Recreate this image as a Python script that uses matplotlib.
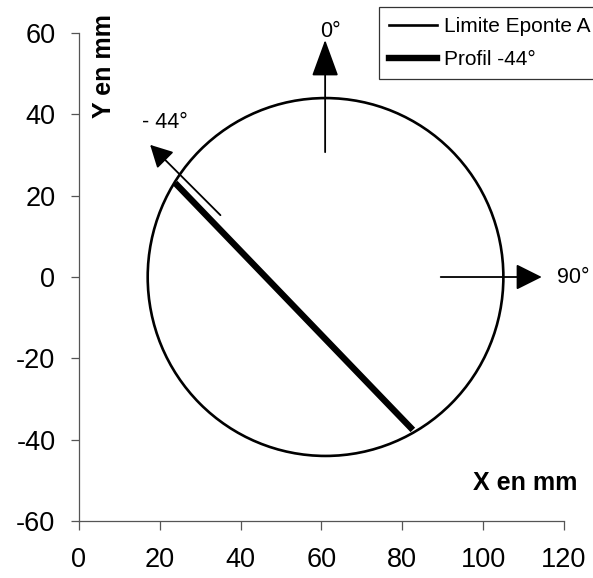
import matplotlib
matplotlib.use('Agg')
import matplotlib.pyplot as plt
from matplotlib.patches import Circle
from matplotlib.lines import Line2D

plt.rcParams['font.family'] = ['Liberation Sans', 'DejaVu Sans']
plt.rcParams['axes.unicode_minus'] = False

# contour "Limite Eponte A" (cercle) en mm
centre = (61, 0)
rayon = 44

# profil -44 deg : extremites (mm)
profil_x = [23.8, 82.6]
profil_y = [23.1, -37.6]

# fleches de direction : (queue, pointe), libelle et position du libelle
fleches_queue = [(60.9, 30.7), (89.5, 0), (35.0, 15.2)]
fleches_pointe = [(60.9, 58.3), (114.5, 0), (17.6, 32.5)]
fleches_tete = [(1.15, 0.42), (0.8, 0.4), (0.68, 0.36)]
libelles = ['0°', '90°', '- 44°']
libelles_pos = [(62.3, 60.3), (118.3, 0), (21.3, 37.9)]
libelles_ha = ['center', 'left', 'center']

xticks = [0, 20, 40, 60, 80, 100, 120]
yticks = [-60, -40, -20, 0, 20, 40, 60]

fig = plt.figure(figsize=(5.93, 5.78), dpi=100)
ax = fig.add_axes([0.1332, 0.0986, 0.8179, 0.8443])
ax.set_xlim(0, 120)
ax.set_ylim(-60, 60)

ax.add_patch(Circle(centre, rayon, fill=False, color='black', lw=1.9))
ax.plot(profil_x, profil_y, color='black', lw=4.6, solid_capstyle='butt')

for q, p, (hl, hw) in zip(fleches_queue, fleches_pointe, fleches_tete):
	ax.annotate('', xy=p, xytext=q, annotation_clip=False,
		arrowprops=dict(arrowstyle='-|>,head_length=%g,head_width=%g' % (hl, hw),
			mutation_scale=20, color='black', lw=1.3, shrinkA=0, shrinkB=0))
for t, (x, y), ha in zip(libelles, libelles_pos, libelles_ha):
	ax.text(x, y, t, fontsize=15.5, ha=ha, va='center')

ax.text(6.3, 51.9, 'Y en mm', fontsize=18, fontweight='bold', rotation=90,
	ha='center', va='center')
ax.text(110.3, -50.6, 'X en mm', fontsize=18, fontweight='bold',
	ha='center', va='center')

for s in ['top', 'right']:
	ax.spines[s].set_visible(False)
for s in ['left', 'bottom']:
	ax.spines[s].set_color('#555555')
	ax.spines[s].set_linewidth(0.9)
ax.set_xticks(xticks)
ax.set_yticks(yticks)
ax.tick_params(axis='both', labelsize=19.5, color='#555555', width=0.9)
ax.tick_params(axis='x', length=6.5, pad=12)
ax.tick_params(axis='y', length=6, pad=11)

handles = [Line2D([], [], color='black', lw=1.9),
	Line2D([], [], color='black', lw=4.6)]
leg = fig.legend(handles, ['Limite Eponte A', 'Profil -44°'], loc='upper left',
	bbox_to_anchor=(0.639, 0.988), bbox_transform=fig.transFigure,
	fontsize=15, handlelength=2.3, handletextpad=0.3, borderpad=0.5,
	labelspacing=0.65, borderaxespad=0, fancybox=False, framealpha=1)
leg.get_frame().set_edgecolor('#333333')
leg.get_frame().set_linewidth(0.9)

fig.savefig('out.png', dpi=100)
